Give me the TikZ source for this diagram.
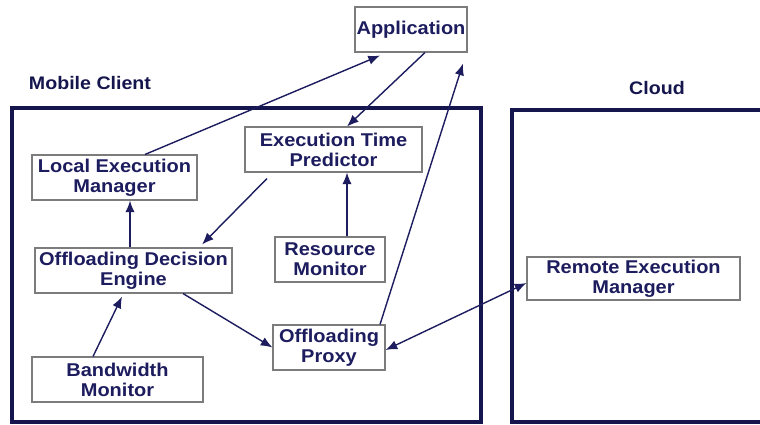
\documentclass[tikz,border=0pt]{standalone}
\usepackage{fontspec}
\setmainfont{Liberation Sans}[FakeStretch=1.08]
\usetikzlibrary{arrows.meta,calc}
\definecolor{navy}{HTML}{1C1C5E}
\definecolor{framec}{HTML}{16164E}
\definecolor{boxline}{HTML}{7C7C7C}
\begin{document}
\begin{tikzpicture}[x=0.03cm,y=-0.03cm,
  comp/.style={draw=boxline,line width=0.9pt,fill=white,align=center,inner sep=0pt,
    minimum height=1.35cm,text=navy,font=\fontsize{15.8}{17}\selectfont\bfseries},
  frame/.style={draw=framec,line width=3.2pt},
  lbl/.style={text=framec,font=\fontsize{15.5}{17}\selectfont\bfseries},
  flow/.style={draw=navy,line width=1.2pt,-{Latex[length=10pt,width=8pt]}},
  flow2/.style={draw=navy,line width=1.2pt,{Latex[length=10pt,width=8pt]}-{Latex[length=10pt,width=8pt]}}]
\useasboundingbox (0,0) rectangle (760,425);

% containers
\draw[frame] (12,108) rectangle (481,422);
\draw[frame] (775,110) -- (512,110) -- (512,422) -- (775,422);
\node[lbl] (mc) at (90,83) {Mobile Client};
\node[lbl] (cl) at (657,88) {Cloud};

% components
\node[comp,minimum width=3.36cm] (app) at (411,29.5) {Application};
\node[comp,minimum width=4.95cm] (lem) at (114.5,177.5) {Local Execution\\Manager};
\node[comp,minimum width=5.31cm] (etp) at (333.5,149.5) {Execution Time\\Predictor};
\node[comp,minimum width=5.91cm] (ode) at (133.5,270.5) {Offloading Decision\\Engine};
\node[comp,minimum width=3.3cm] (rm) at (330,259.5) {Resource\\Monitor};
\node[comp,minimum width=3.36cm] (proxy) at (329,347.5) {Offloading\\Proxy};
\node[comp,minimum width=5.13cm] (bm) at (117.5,379.5) {Bandwidth\\Monitor};
\node[comp,minimum width=6.39cm,minimum height=1.29cm] (rem) at (633.5,278.5) {Remote Execution\\Manager};

% data flow
\draw[flow] ([xshift=0.915cm]lem.north) -- ([xshift=-0.93cm,yshift=-0.09cm]app.south);
\draw[flow] ([xshift=0.42cm]app.south) -- ([xshift=0.405cm]etp.north);
\draw[flow] ([xshift=-1.995cm,yshift=-0.18cm]etp.south) -- ([xshift=2.055cm,yshift=0.09cm]ode.north);
\draw[flow] ([xshift=-0.105cm]ode.north) -- ([xshift=-0.105cm]ode.north |- lem.south);
\draw[flow] ([xshift=0.51cm]rm.north) -- ([xshift=0.51cm]rm.north |- etp.south);
\draw[flow] ([xshift=-0.735cm]bm.north) -- ([xshift=-0.345cm,yshift=-0.09cm]ode.south);
\draw[flow] ([xshift=1.485cm]ode.south) -- (proxy.west);
\draw[flow] ([xshift=1.53cm]proxy.north) -- ([xshift=1.56cm,yshift=-0.33cm]app.south);
\draw[flow2] ([yshift=-0.075cm]proxy.east) -- ([yshift=-0.135cm]rem.west);
\end{tikzpicture}
\end{document}
